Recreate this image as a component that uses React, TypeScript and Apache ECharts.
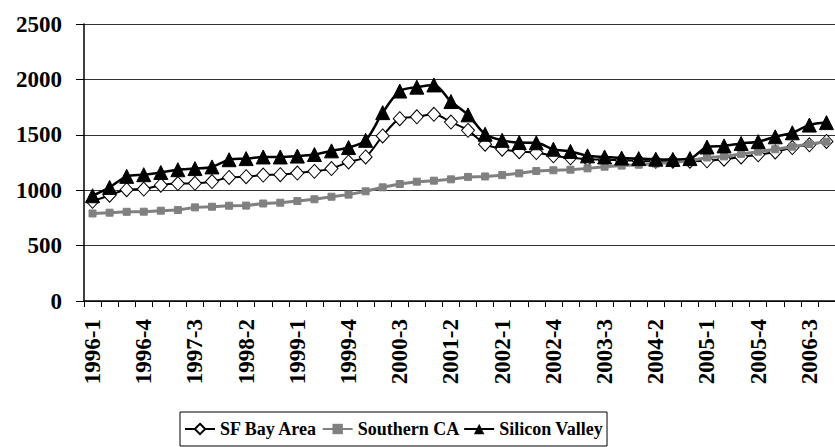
import React, { useEffect, useRef } from "react";
import * as echarts from "echarts";

const categories = [
  "1996-1", "1996-2", "1996-3", "1996-4",
  "1997-1", "1997-2", "1997-3", "1997-4",
  "1998-1", "1998-2", "1998-3", "1998-4",
  "1999-1", "1999-2", "1999-3", "1999-4",
  "2000-1", "2000-2", "2000-3", "2000-4",
  "2001-1", "2001-2", "2001-3", "2001-4",
  "2002-1", "2002-2", "2002-3", "2002-4",
  "2003-1", "2003-2", "2003-3", "2003-4",
  "2004-1", "2004-2", "2004-3", "2004-4",
  "2005-1", "2005-2", "2005-3", "2005-4",
  "2006-1", "2006-2", "2006-3", "2006-4",
];

const seriesNames = ["SF Bay Area", "Southern CA", "Silicon Valley"];

const sfBayArea = [
  900, 955, 1005, 1010, 1045, 1060, 1062, 1078, 1115, 1122, 1137, 1140,
  1155, 1170, 1195, 1255, 1300, 1490, 1645, 1662, 1685, 1615, 1540, 1415,
  1370, 1348, 1340, 1310, 1292, 1280, 1275, 1270, 1265, 1262, 1262, 1262,
  1265, 1280, 1300, 1320, 1345, 1385, 1410, 1440,
];

const southernCA = [
  790, 797, 805, 806, 815, 821, 845, 851, 860, 861, 880, 887,
  902, 918, 941, 960, 990, 1026, 1056, 1077, 1086, 1098, 1120, 1124,
  1136, 1152, 1173, 1180, 1185, 1197, 1212, 1222, 1230, 1240, 1250, 1265,
  1295, 1305, 1327, 1348, 1369, 1393, 1417, 1438,
];

const siliconValley = [
  950, 1025, 1125, 1140, 1160, 1185, 1195, 1210, 1275, 1285, 1300, 1300,
  1308, 1322, 1355, 1385, 1450, 1700, 1895, 1930, 1950, 1800, 1680, 1505,
  1450, 1430, 1428, 1370, 1350, 1310, 1300, 1290, 1285, 1280, 1278, 1285,
  1390, 1400, 1422, 1438, 1482, 1518, 1588, 1610,
];

const FONT = "Liberation Serif";

export default function App() {
  const ref = useRef<HTMLDivElement>(null);
  useEffect(() => {
    if (!ref.current) return;
    const chart = echarts.init(ref.current, null, { renderer: "svg" });
    chart.setOption({
      animation: false,
      backgroundColor: "#fff",
      textStyle: { fontFamily: FONT },
      grid: { left: 84, top: 24, bottom: 146, right: -8 },
      legend: {
        left: 180,
        bottom: 1,
        padding: [8, 4, 8, 4],
        borderColor: "#000",
        borderWidth: 1,
        itemGap: 4,
        itemWidth: 30,
        itemHeight: 13,
        textStyle: { fontFamily: FONT, fontWeight: "bold", fontSize: 18, color: "#000" },
        data: seriesNames,
      },
      xAxis: {
        type: "category",
        data: categories,
        boundaryGap: true,
        axisLine: { lineStyle: { color: "#000", width: 1.5 } },
        axisTick: { show: true, interval: 0, length: 6, lineStyle: { color: "#000" } },
        axisLabel: {
          interval: 2,
          rotate: 90,
          margin: 18,
          fontFamily: FONT,
          fontWeight: "bold",
          fontSize: 23,
          color: "#000",
        },
        splitLine: { show: false },
      },
      yAxis: {
        type: "value",
        min: 0,
        max: 2500,
        interval: 500,
        axisLine: { show: true, lineStyle: { color: "#000", width: 1.5 } },
        axisTick: { show: true, length: 8, lineStyle: { color: "#000" } },
        axisLabel: {
          margin: 22,
          fontFamily: FONT,
          fontWeight: "bold",
          fontSize: 23,
          color: "#000",
          formatter: (v: number) => String(v),
        },
        splitLine: { show: true, lineStyle: { color: "#333", width: 1 } },
      },
      series: [
        {
          name: seriesNames[0],
          type: "line",
          data: sfBayArea,
          smooth: 0.3,
          symbol: "diamond",
          symbolSize: [13, 14],
          showAllSymbol: true,
          lineStyle: { color: "#000", width: 2 },
          itemStyle: { color: "#fff", borderColor: "#000", borderWidth: 1 },
          z: 2,
        },
        {
          name: seriesNames[1],
          type: "line",
          data: southernCA,
          symbol: "rect",
          symbolSize: 7,
          showAllSymbol: true,
          lineStyle: { color: "#808080", width: 3 },
          itemStyle: { color: "#808080", borderColor: "#808080" },
          z: 3,
        },
        {
          name: seriesNames[2],
          type: "line",
          data: siliconValley,
          smooth: 0.3,
          symbol: "triangle",
          symbolSize: 14,
          showAllSymbol: true,
          lineStyle: { color: "#000", width: 2.5 },
          itemStyle: { color: "#000", borderColor: "#000" },
          z: 4,
        },
      ],
    });
    return () => chart.dispose();
  }, []);
  return (
    <div
      ref={ref}
      style={{ position: "fixed", left: 0, top: 0, width: 835, height: 447, background: "#fff" }}
    />
  );
}
